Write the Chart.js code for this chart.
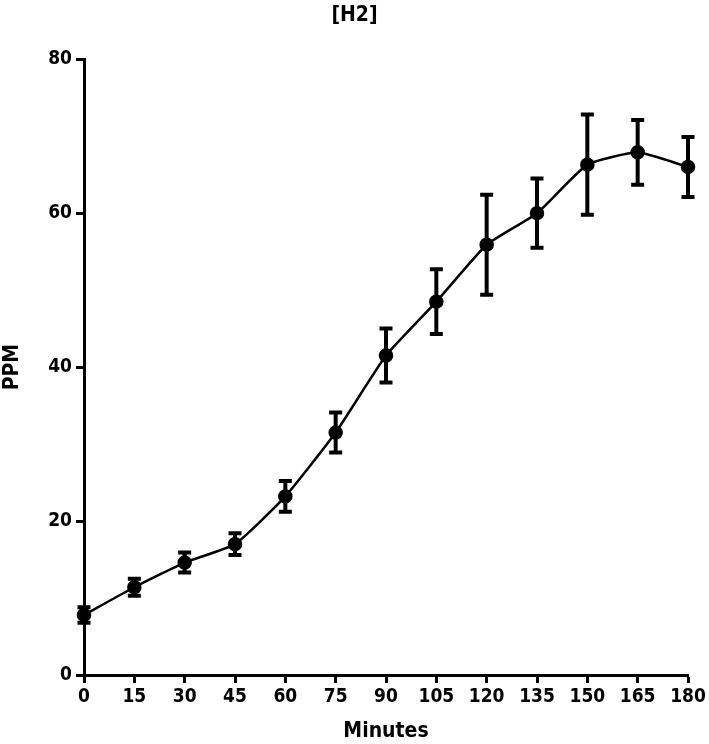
<!DOCTYPE html>
<html>
<head>
<meta charset="utf-8">
<script src="https://cdn.jsdelivr.net/npm/chart.js@4/dist/chart.umd.min.js"></script>
<style>
  body { margin: 0; background: #fff; }
  #chartH2 { display: block; }
</style>
</head>
<body>
<canvas id="chartH2" width="709" height="744"></canvas>
<script>
// data
const minutes = [0, 15, 30, 45, 60, 75, 90, 105, 120, 135, 150, 165, 180];
const ppm = [7.8, 11.4, 14.6, 17.0, 23.2, 31.5, 41.5, 48.5, 55.9, 60.0, 66.3, 67.9, 66.0];
const ppmErr = [1.0, 1.1, 1.3, 1.4, 2.0, 2.6, 3.5, 4.2, 6.5, 4.5, 6.5, 4.2, 3.9];
const yTicks = [0, 20, 40, 60, 80];

const fontFam = "'DejaVu Sans Condensed', 'Liberation Sans', Arial, sans-serif";

// draws the error bars with the chart's own scales
const errorBars = {
  id: 'errorBars',
  afterLayout(chart) {
    // center the title over the whole canvas, not just the padded area
    if (chart.titleBlock) {
      chart.titleBlock.left = 0;
      chart.titleBlock.right = chart.width;
      chart.titleBlock.width = chart.width;
    }
  },
  beforeDatasetsDraw(chart) {
    const ctx = chart.ctx;
    const xs = chart.scales.x;
    const ys = chart.scales.y;
    ctx.save();
    ctx.strokeStyle = '#000';
    ctx.lineWidth = 4;
    ctx.lineCap = 'butt';
    minutes.forEach((m, i) => {
      const px = xs.getPixelForValue(m);
      const top = ys.getPixelForValue(ppm[i] + ppmErr[i]);
      const bot = ys.getPixelForValue(ppm[i] - ppmErr[i]);
      ctx.beginPath();
      ctx.moveTo(px, top);
      ctx.lineTo(px, bot);
      ctx.moveTo(px - 6.5, top);
      ctx.lineTo(px + 6.5, top);
      ctx.moveTo(px - 6.5, bot);
      ctx.lineTo(px + 6.5, bot);
      ctx.stroke();
    });
    ctx.restore();
  }
};

const data = {
  datasets: [{
    label: 'H2',
    data: minutes.map((m, i) => ({ x: m, y: ppm[i] })),
    borderColor: '#000',
    backgroundColor: '#000',
    borderWidth: 2.5,
    pointRadius: 6,
    pointHoverRadius: 6,
    tension: 0.15,
    clip: false
  }]
};

const config = {
  type: 'line',
  data: data,
  options: {
    responsive: false,
    animation: false,
    layout: {
      padding: { left: 0, right: 21, top: 0, bottom: 0 }
    },
    plugins: {
      legend: { display: false },
      tooltip: { enabled: false },
      title: {
        display: true,
        text: '[H2]',
        color: '#000',
        font: { family: fontFam, size: 21, weight: 'bold' },
        padding: { top: 3, bottom: 31 }
      }
    },
    scales: {
      x: {
        type: 'linear',
        min: 0,
        max: 180,
        afterBuildTicks(scale) {
          scale.ticks = minutes.map(v => ({ value: v }));
        },
        grid: {
          display: true,
          drawOnChartArea: false,
          drawTicks: true,
          tickLength: 8,
          tickWidth: 3,
          color: '#000'
        },
        border: { display: true, color: '#000', width: 3 },
        ticks: {
          color: '#000',
          padding: 3,
          maxRotation: 0,
          autoSkip: false,
          font: { family: fontFam, size: 19, weight: 'bold' }
        },
        title: {
          display: true,
          text: 'Minutes',
          color: '#000',
          padding: { top: 2, bottom: 0 },
          font: { family: fontFam, size: 21, weight: 'bold' }
        },
        afterFit(scale) { scale.height = 69; }
      },
      y: {
        min: 0,
        max: 80,
        afterBuildTicks(scale) {
          scale.ticks = yTicks.map(v => ({ value: v }));
        },
        grid: {
          display: true,
          drawOnChartArea: false,
          drawTicks: true,
          tickLength: 8,
          tickWidth: 3,
          color: '#000'
        },
        border: { display: true, color: '#000', width: 3 },
        ticks: {
          color: '#000',
          padding: 4,
          font: { family: fontFam, size: 19, weight: 'bold' }
        },
        title: {
          display: true,
          text: 'PPM',
          color: '#000',
          padding: { top: 0, bottom: 8 },
          font: { family: fontFam, size: 21, weight: 'bold' }
        },
        afterFit(scale) { scale.width = 84; }
      }
    }
  },
  plugins: [errorBars]
};

const chartH2 = new Chart(document.getElementById('chartH2'), config);
</script>
</body>
</html>
